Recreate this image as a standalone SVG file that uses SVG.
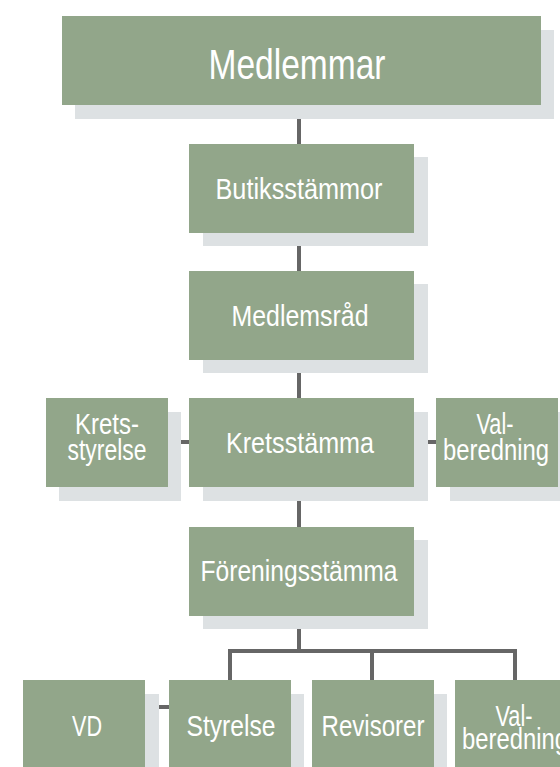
<svg xmlns="http://www.w3.org/2000/svg" width="560" height="767" viewBox="0 0 560 767">
<style>
.sh{fill:#dde1e3}
.bx{fill:#92a68a}
.t{fill:#ffffff;font-family:"Liberation Sans",Arial,sans-serif;font-size:29px;text-anchor:middle}
.ln{stroke:#666666;stroke-width:4;fill:none}
</style>
<rect width="560" height="767" fill="#ffffff"/>
<g id="connectors">
<line class="ln" x1="299" y1="105" x2="299" y2="144"/>
<line class="ln" x1="299" y1="233" x2="299" y2="271"/>
<line class="ln" x1="299" y1="359" x2="299" y2="398"/>
<line class="ln" x1="299" y1="487" x2="299" y2="527"/>
<line class="ln" x1="168" y1="442" x2="189" y2="442"/>
<line class="ln" x1="414" y1="442" x2="436" y2="442"/>
<line class="ln" x1="299" y1="615" x2="299" y2="651"/>
<polyline class="ln" points="230,680 230,651 515,651 515,680"/>
<line class="ln" x1="372" y1="651" x2="372" y2="680"/>
<line class="ln" x1="145" y1="707" x2="169" y2="707"/>
</g>
<g id="n-medlemmar">
<rect class="sh" x="75" y="30" width="479" height="89"/>
<rect class="bx" x="62" y="16" width="479" height="89"/>
<text class="t" x="297" y="79" style="font-size:42px" textLength="177" lengthAdjust="spacingAndGlyphs">Medlemmar</text>
</g>
<g id="n-butik">
<rect class="sh" x="203" y="157" width="225" height="89"/>
<rect class="bx" x="189" y="144" width="225" height="89"/>
<text class="t" x="299" y="199" textLength="167" lengthAdjust="spacingAndGlyphs">Butiksstämmor</text>
</g>
<g id="n-medlemsrad">
<rect class="sh" x="203" y="284" width="225" height="89"/>
<rect class="bx" x="189" y="271" width="225" height="89"/>
<text class="t" x="300" y="326" textLength="137" lengthAdjust="spacingAndGlyphs">Medlemsråd</text>
</g>
<g id="n-kretsstyrelse">
<rect class="sh" x="59" y="412" width="122" height="89"/>
<rect class="bx" x="46" y="398" width="122" height="89"/>
<text class="t" x="107" y="434" textLength="64" lengthAdjust="spacingAndGlyphs">Krets-</text>
<text class="t" x="107" y="460" textLength="79" lengthAdjust="spacingAndGlyphs">styrelse</text>
</g>
<g id="n-kretsstamma">
<rect class="sh" x="203" y="412" width="225" height="89"/>
<rect class="bx" x="189" y="398" width="225" height="89"/>
<text class="t" x="300" y="453" textLength="148" lengthAdjust="spacingAndGlyphs">Kretsstämma</text>
</g>
<g id="n-valberedning1">
<rect class="sh" x="450" y="412" width="122" height="89"/>
<rect class="bx" x="436" y="398" width="122" height="89"/>
<text class="t" x="495" y="434" textLength="37" lengthAdjust="spacingAndGlyphs">Val-</text>
<text class="t" x="496" y="460" textLength="106" lengthAdjust="spacingAndGlyphs">beredning</text>
</g>
<g id="n-foreningsstamma">
<rect class="sh" x="203" y="540" width="225" height="89"/>
<rect class="bx" x="189" y="527" width="225" height="89"/>
<text class="t" x="299" y="581" textLength="197" lengthAdjust="spacingAndGlyphs">Föreningsstämma</text>
</g>
<g id="n-vd">
<rect class="sh" x="37" y="694" width="122" height="89"/>
<rect class="bx" x="23" y="680" width="122" height="89"/>
<text class="t" x="87" y="736" textLength="30" lengthAdjust="spacingAndGlyphs">VD</text>
</g>
<g id="n-styrelse">
<rect class="sh" x="182" y="694" width="122" height="89"/>
<rect class="bx" x="169" y="680" width="122" height="89"/>
<text class="t" x="231" y="736" textLength="89" lengthAdjust="spacingAndGlyphs">Styrelse</text>
</g>
<g id="n-revisorer">
<rect class="sh" x="325" y="694" width="122" height="89"/>
<rect class="bx" x="312" y="680" width="122" height="89"/>
<text class="t" x="373" y="736" textLength="103" lengthAdjust="spacingAndGlyphs">Revisorer</text>
</g>
<g id="n-valberedning2">
<rect class="sh" x="469" y="694" width="122" height="89"/>
<rect class="bx" x="455" y="680" width="122" height="89"/>
<text class="t" x="514" y="726" textLength="37" lengthAdjust="spacingAndGlyphs">Val-</text>
<text class="t" x="515" y="749" textLength="106" lengthAdjust="spacingAndGlyphs">beredning</text>
</g>
</svg>
